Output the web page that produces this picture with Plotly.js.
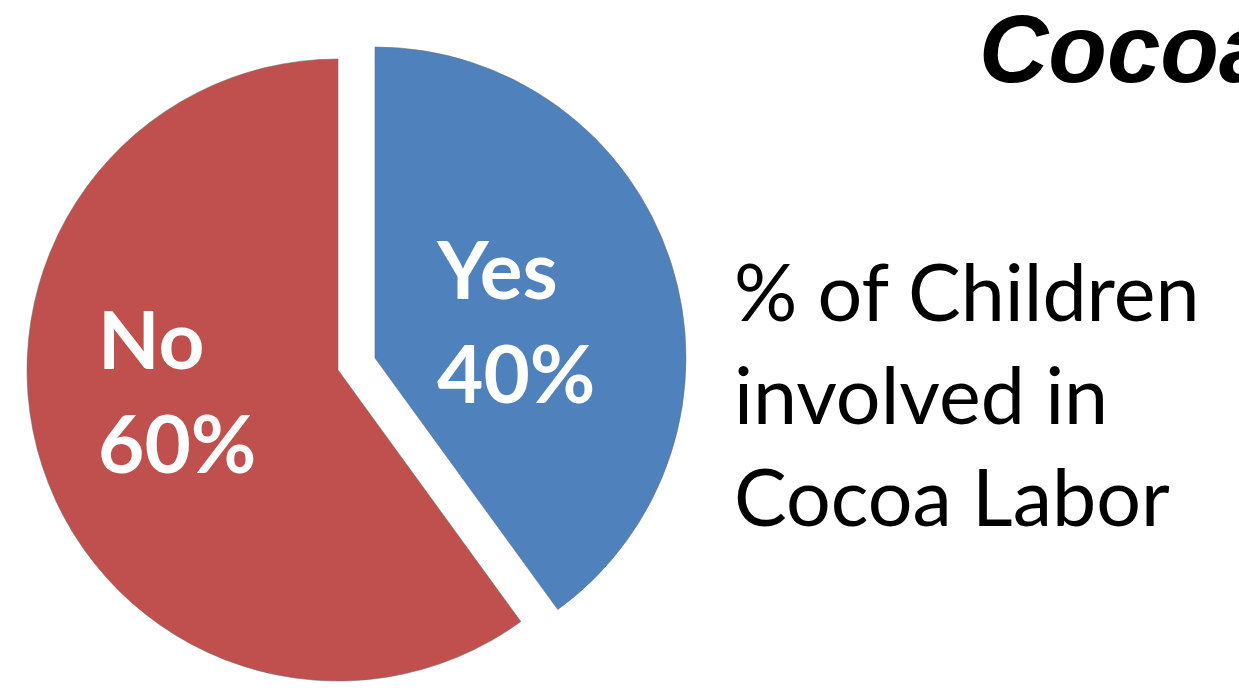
<!DOCTYPE html>
<html><head><meta charset="utf-8">
<script src="https://cdn.plot.ly/plotly-3.0.1.min.js"></script>
<style>
html,body{margin:0;padding:0;overflow:hidden;background:#fff;width:1239px;height:690px;position:relative}
#chart{position:absolute;left:-40px;top:-40px;width:1319px;height:770px}
</style>
</head><body><div id="chart"></div>
<script>
// ---- data ----
const categories = ['Yes', 'No'];
const values = [40, 60];
const sliceColors = ['#4F81BD', '#C0504D'];
const pulls = [0.125, 0];
const titleText = 'Cocoa';
const sideText = ['% of Children', 'involved in', 'Cocoa Labor'];

// ---- layout helpers (screen px -> paper fraction) ----
const OFF_X = 40, OFF_Y = 40, W = 1319, H = 770;
const px = x => (x + OFF_X) / W;
const py = y => 1 - (y + OFF_Y) / H;

const cx = 338, cy = 370, r = 311;
const half = r * (1 + Math.max(...pulls));

const total = values.reduce((a, b) => a + b, 0);
const pctText = values.map(v => Math.round(v / total * 100) + '%');

const labelPos = [[435, 219], [97, 289]];

const annotations = [];
categories.forEach((c, i) => {
  annotations.push({
    text: c + '<br>' + pctText[i],
    xref: 'paper', yref: 'paper',
    x: px(labelPos[i][0]), y: py(labelPos[i][1]),
    xanchor: 'left', yanchor: 'top', align: 'left',
    showarrow: false, borderpad: 0,
    font: {family: 'Lato', size: 80, color: '#ffffff', weight: 'bold'}
  });
});
annotations.push({
  text: sideText.join('<br>'),
  xref: 'paper', yref: 'paper',
  x: px(733), y: py(242),
  xanchor: 'left', yanchor: 'top', align: 'left',
  showarrow: false, borderpad: 0,
  font: {family: 'Lato', size: 79, color: '#000000'}
});
annotations.push({
  text: titleText,
  xref: 'paper', yref: 'paper',
  x: px(978), y: py(-6),
  xanchor: 'left', yanchor: 'top', align: 'left',
  showarrow: false, borderpad: 0,
  font: {family: 'Liberation Sans', size: 96, color: '#000000', weight: 'bold', style: 'italic'}
});

const trace = {
  type: 'pie',
  labels: categories,
  values: values,
  sort: false,
  direction: 'clockwise',
  rotation: 0,
  pull: pulls,
  textinfo: 'none',
  hoverinfo: 'label+percent',
  marker: {colors: sliceColors, line: {color: 'rgba(110,110,110,0.55)', width: 1}},
  domain: {x: [px(cx - half), px(cx + half)], y: [py(cy + half), py(cy - half)]}
};

const layout = {
  width: W, height: H,
  margin: {l: 0, r: 0, t: 0, b: 0},
  paper_bgcolor: '#ffffff',
  showlegend: false,
  annotations: annotations
};

Plotly.newPlot('chart', [trace], layout, {displayModeBar: false, staticPlot: true});
</script>
</body></html>
